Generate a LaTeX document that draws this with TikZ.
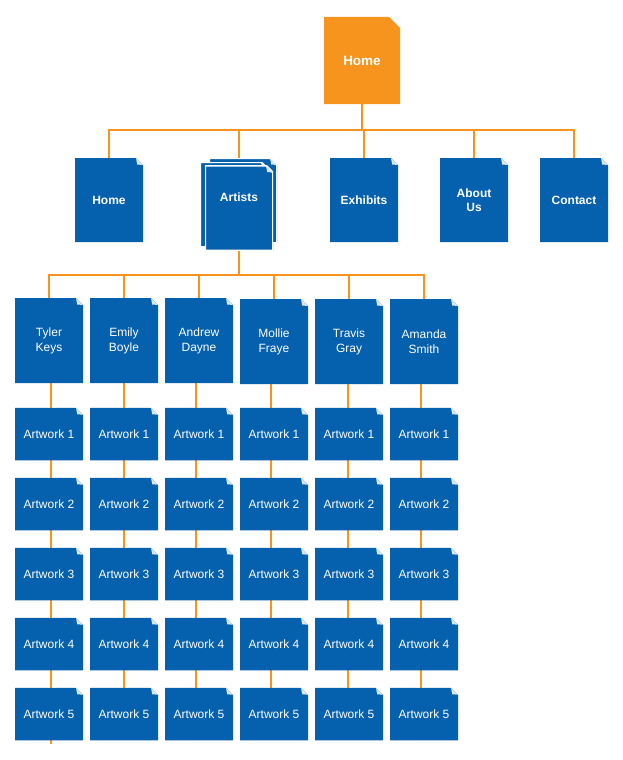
\documentclass[tikz,border=0pt]{standalone}
\usepackage{fontspec}
\setmainfont{Liberation Sans}
\usetikzlibrary{backgrounds}
\definecolor{pgblue}{HTML}{0560AD}
\definecolor{pgorange}{HTML}{F7941E}
\definecolor{pgfold}{HTML}{DCE8F5}
\newcommand\mypagepoly[2]{%
  \path[#1] (path picture bounding box.south west) -- (path picture bounding box.north west)
    -- ([xshift=-#2]path picture bounding box.north east) -- ([yshift=-#2]path picture bounding box.north east)
    -- (path picture bounding box.south east) -- cycle;}
\newcommand\myfold[1]{%
  \fill[pgfold] ([xshift=-#1]path picture bounding box.north east) -- ([xshift=-#1+1.2pt,yshift=-#1+0.5pt]path picture bounding box.north east)
    -- ([yshift=-#1]path picture bounding box.north east) -- cycle;}
\tikzset{
  page/.style={inner sep=0pt, outer sep=0pt, minimum width=68pt, minimum height=#1,
    text=white, align=center, font=\fontsize{12}{15}\selectfont,
    path picture={\mypagepoly{fill=pgblue}{7pt}\myfold{7pt}}},
  stackpage/.style={page=85pt,
    path picture={\mypagepoly{fill=pgblue,draw=white,line width=2pt}{7pt}\myfold{7pt}}},
  toppage/.style={inner sep=0pt, outer sep=0pt, minimum width=76pt, minimum height=87pt,
    text=white, font=\bfseries\fontsize{13.5}{16}\selectfont,
    path picture={\mypagepoly{fill=pgorange}{11pt}}},
  boldtext/.style={font=\bfseries\fontsize{12}{14}\selectfont},
  plaintext/.style={text=white, font=\bfseries\fontsize{12}{14}\selectfont, inner sep=0pt},
  link/.style={draw=pgorange, line width=2pt},
}
\begin{document}
\begin{tikzpicture}[x=1pt,y=-1pt]
\useasboundingbox (0,0) rectangle (623,760);
% top
\node[toppage] (top) at (362,60.5) {Home};
% level 2
\node[page=84pt, boldtext] (home) at (109,200) {Home};
\node[stackpage] (artback) at (243,200.5) {};
\node[stackpage] (artmid) at (234,204.5) {};
\node[stackpage] (artists) at (239,208) {};
\node[plaintext] (artlabel) at (239,197) {Artists};
\node[page=84pt, boldtext] (exhibits) at (364,200) {Exhibits};
\node[page=84pt, boldtext] (about) at (474,200) {About\\Us};
\node[page=84pt, boldtext] (contact) at (574,200) {Contact};
% artists
\foreach \i/\x/\y/\n in {1/49/340.5/{Tyler\\Keys},2/124/340.5/{Emily\\Boyle},3/199/340.5/{Andrew\\Dayne},
                         4/274/341.5/{Mollie\\Fraye},5/349/341.5/{Travis\\Gray},6/424/341.5/{Amanda\\Smith}}{
  \node[page=85pt] (a\i) at (\x,\y) {\n};
  \foreach \r/\yy in {1/434,2/504,3/574,4/644,5/714}{
    \node[page=52.5pt] (w\i\r) at (\x,\yy) {Artwork \r};
  }
}
\coordinate (stub) at (51,744);
\begin{scope}[on background layer]
  \draw[link] (top.south) -- ++(0,26) coordinate (j1);
  \foreach \t in {home,artists,exhibits,about,contact}{
    \draw[link] (j1) -| (\t.north);
  }
  \draw[link] (artists.south) -- ++(0,24.5) coordinate (j2);
  \foreach \i in {1,...,6}{
    \draw[link] (j2) -| (a\i.north);
  }
  \foreach \i/\o in {1/2,2/0,3/-3,4/-3,5/-1,6/-3}{
    \draw[link] ([xshift=\o pt]a\i.south) -- ([xshift=\o pt]w\i1.north);
    \draw[link] ([xshift=\o pt]w\i1.south) -- ([xshift=\o pt]w\i2.north);
    \draw[link] ([xshift=\o pt]w\i2.south) -- ([xshift=\o pt]w\i3.north);
    \draw[link] ([xshift=\o pt]w\i3.south) -- ([xshift=\o pt]w\i4.north);
    \draw[link] ([xshift=\o pt]w\i4.south) -- ([xshift=\o pt]w\i5.north);
  }
  \draw[link] ([xshift=2pt]w15.south) -- (stub);
\end{scope}
\end{tikzpicture}
\end{document}
